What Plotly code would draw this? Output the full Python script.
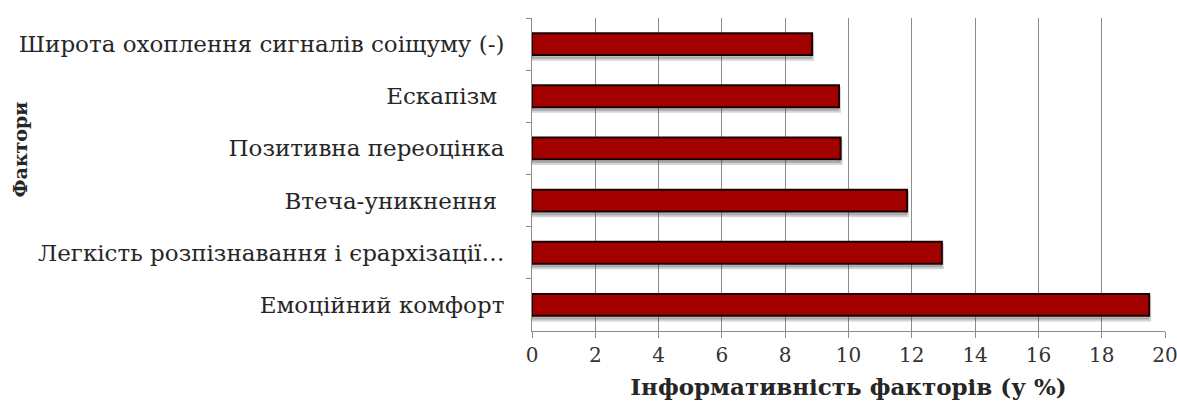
import plotly.graph_objects as go

# Factors, listed top to bottom as they appear on the chart
factors = [
    "Широта охоплення сигналів соіщуму (-)",
    "Ескапізм ",
    "Позитивна переоцінка",
    "Втеча-уникнення ",
    "Легкість розпізнавання і єрархізації…",
    "Емоційний комфорт",
]
# Informativeness of each factor, %
informativeness = [8.85, 9.7, 9.75, 11.85, 12.95, 19.5]

x_ticks = list(range(0, 21, 2))

serif = "DejaVu Serif"
text_color = "#262626"
bar_width = 0.42

fig = go.Figure()

# soft drop shadow under each bar
fig.add_trace(go.Bar(
    x=informativeness,
    y=factors,
    orientation="h",
    width=bar_width,
    offset=-bar_width / 2 + 0.07,
    marker=dict(color="rgba(60,60,60,0.28)",
                line=dict(color="rgba(60,60,60,0.22)", width=4)),
    hoverinfo="skip",
    showlegend=False,
))

fig.add_trace(go.Bar(
    x=informativeness,
    y=factors,
    orientation="h",
    width=bar_width,
    offset=-bar_width / 2,
    marker=dict(color="#a30000", line=dict(color="#1a0000", width=2)),
    showlegend=False,
))

fig.update_layout(
    width=1177,
    height=408,
    barmode="overlay",
    margin=dict(l=532, r=12, t=18, b=77),
    paper_bgcolor="white",
    plot_bgcolor="white",
    font=dict(family=serif, color=text_color, size=22),
    xaxis=dict(
        range=[0, 20],
        automargin=False,
        tickvals=x_ticks,
        ticktext=[str(v) for v in x_ticks],
        tickfont=dict(family=serif, size=20, color="#333333"),
        ticklabeloverflow="allow",
        ticklabelstandoff=0,
        showgrid=True,
        gridcolor="#8c8c8c",
        gridwidth=1,
        zeroline=False,
        showline=True,
        linecolor="#8c8c8c",
        linewidth=1,
        ticks="outside",
        ticklen=6,
        tickcolor="#8c8c8c",
        title=dict(
            text="<b>Інформативність факторів (у %)</b>",
            font=dict(family=serif, size=23, color=text_color),
            standoff=12,
        ),
    ),
    yaxis=dict(
        autorange="reversed",
        automargin=False,
        tickfont=dict(family=serif, size=23, color=text_color),
        showline=True,
        linecolor="#8c8c8c",
        linewidth=1,
        ticks="outside",
        tickson="boundaries",
        ticklen=5,
        tickcolor="#8c8c8c",
        ticklabelstandoff=22,
        showgrid=False,
    ),
    annotations=[dict(
        text="<b>Фактори</b>",
        xref="paper", yref="paper",
        x=0, y=0.58,
        xanchor="center", yanchor="middle",
        xshift=-512,
        textangle=-90,
        showarrow=False,
        font=dict(family=serif, size=19, color=text_color),
    )],
)

fig.write_html("out.html")
